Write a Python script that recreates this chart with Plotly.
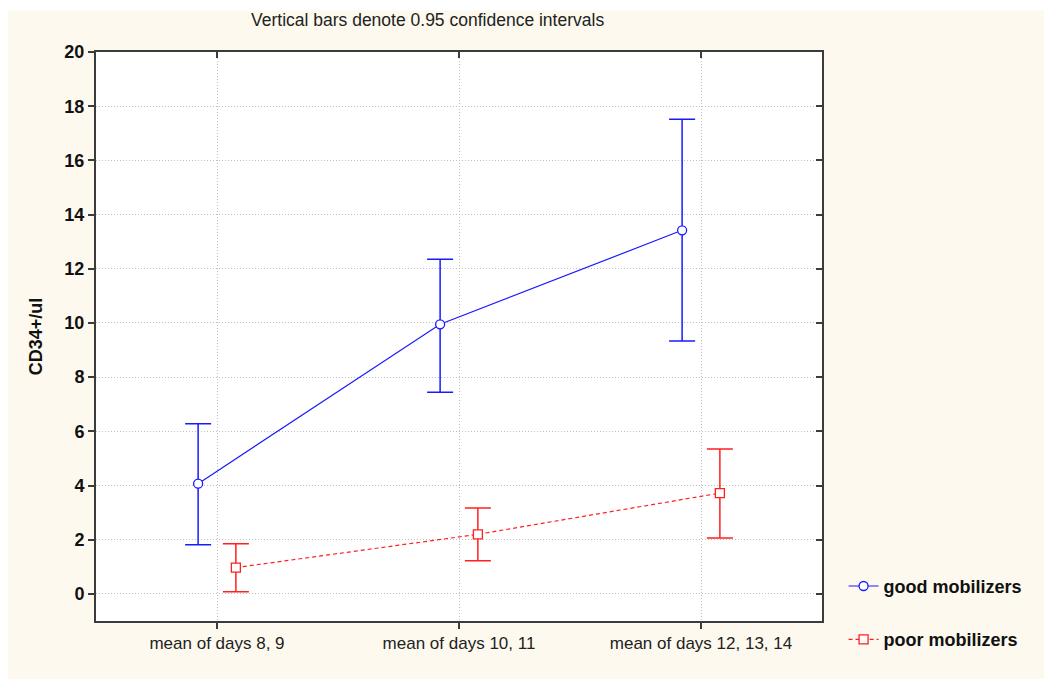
import plotly.graph_objects as go

categories = ["mean of days 8, 9", "mean of days 10, 11", "mean of days 12, 13, 14"]
good_mean = [4.07, 9.95, 13.42]
good_low = [1.81, 7.44, 9.33]
good_high = [6.28, 12.35, 17.52]
poor_mean = [0.97, 2.20, 3.72]
poor_low = [0.08, 1.22, 2.06]
poor_high = [1.85, 3.17, 5.35]
y_ticks = list(range(0, 21, 2))

offset = 0.078
idx = list(range(len(categories)))
x_good = [i - offset for i in idx]
x_poor = [i + offset for i in idx]

BLUE = "#1a1aff"
RED = "#ff2020"
CREAM = "#fdf9ee"
AXIS = "#3c3c3c"
GRID = "#c0c0c0"
FONT = "Liberation Sans, Arial, sans-serif"

fig = go.Figure()
fig.add_trace(go.Scatter(
    x=x_good, y=good_mean, mode="lines+markers", name="<b>good mobilizers</b>",
    legendgroup="g",
    line=dict(color=BLUE, width=1.2),
    marker=dict(symbol="circle", size=9, color="white", line=dict(color=BLUE, width=1.3)),
    error_y=dict(type="data", symmetric=False,
                 array=[h - m for h, m in zip(good_high, good_mean)],
                 arrayminus=[m - l for m, l in zip(good_mean, good_low)],
                 color=BLUE, thickness=1.5, width=13),
))
fig.add_trace(go.Scatter(
    x=x_poor, y=poor_mean, mode="lines+markers", name="<b>poor mobilizers</b>",
    legendgroup="p",
    line=dict(color=RED, width=1.2, dash="4px,3px"),
    marker=dict(symbol="square", size=9, color="white", line=dict(color=RED, width=1.3)),
    error_y=dict(type="data", symmetric=False,
                 array=[h - m for h, m in zip(poor_high, poor_mean)],
                 arrayminus=[m - l for m, l in zip(poor_mean, poor_low)],
                 color=RED, thickness=1.5, width=13),
))
# empty trace so that the mirrored (top/right) axes with inside ticks are drawn
fig.add_trace(go.Scatter(x=[], y=[], xaxis="x2", yaxis="y2", showlegend=False,
                         hoverinfo="skip", mode="markers"))

fig.update_layout(
    width=1044, height=679,
    margin=dict(l=96, r=222, t=52, b=58),
    paper_bgcolor=CREAM,
    plot_bgcolor="white",
    font=dict(family=FONT, color="#111111"),
    showlegend=True,
    legend=dict(x=1.0297, xanchor="left", y=0.0935, yanchor="top",
                bgcolor="rgba(0,0,0,0)", traceorder="grouped", tracegroupgap=27,
                font=dict(size=18, family=FONT, color="#111111"),
                itemwidth=30),
    xaxis=dict(range=[-0.5, 2.5], tickmode="array", tickvals=idx, ticktext=categories,
               showgrid=True, gridcolor=GRID, griddash="1px,2px", gridwidth=1,
               showline=True, linecolor=AXIS, linewidth=2, mirror=True,
               ticks="outside", ticklen=6, tickcolor=AXIS, tickwidth=1.5,
               tickfont=dict(size=17, color="#222222"), zeroline=False),
    yaxis=dict(range=[-1, 20], tickmode="array", tickvals=y_ticks,
               showgrid=True, gridcolor=GRID, griddash="1px,2px", gridwidth=1,
               showline=True, linecolor=AXIS, linewidth=2, mirror=True,
               ticks="outside", ticklen=6, tickcolor=AXIS, tickwidth=1.5,
               tickfont=dict(size=18, color="#111111", weight="bold"), zeroline=False,
               title=dict(text="<b>CD34+/ul</b>", font=dict(size=18), standoff=17)),
    xaxis2=dict(overlaying="x", side="top", range=[-0.5, 2.5], tickmode="array",
                tickvals=idx, showticklabels=False, ticks="inside", ticklen=6,
                tickcolor=AXIS, tickwidth=1.5, showline=False,
                showgrid=False, zeroline=False, anchor="y"),
    yaxis2=dict(overlaying="y", side="right", range=[-1, 20], tickmode="array",
                tickvals=y_ticks, showticklabels=False, ticks="inside",
                ticklen=6, tickcolor=AXIS, tickwidth=1.5, showline=False,
                showgrid=False, zeroline=False, anchor="x"),
)
fig.add_annotation(text="Vertical bars denote 0.95 confidence intervals",
                   xref="paper", yref="paper", x=0.456, y=1.0, yshift=44,
                   showarrow=False, font=dict(size=17.5, color="#222222"))
# thin white strips at the top and left edges of the page
fig.add_shape(type="rect", xref="paper", yref="paper", x0=-1, x1=3, y0=1.073, y1=1.2,
              fillcolor="white", line=dict(width=0), layer="below")
fig.add_shape(type="rect", xref="paper", yref="paper", x0=-0.2, x1=-0.121, y0=-1, y1=2,
              fillcolor="white", line=dict(width=0), layer="below")

fig.write_html("out.html")
